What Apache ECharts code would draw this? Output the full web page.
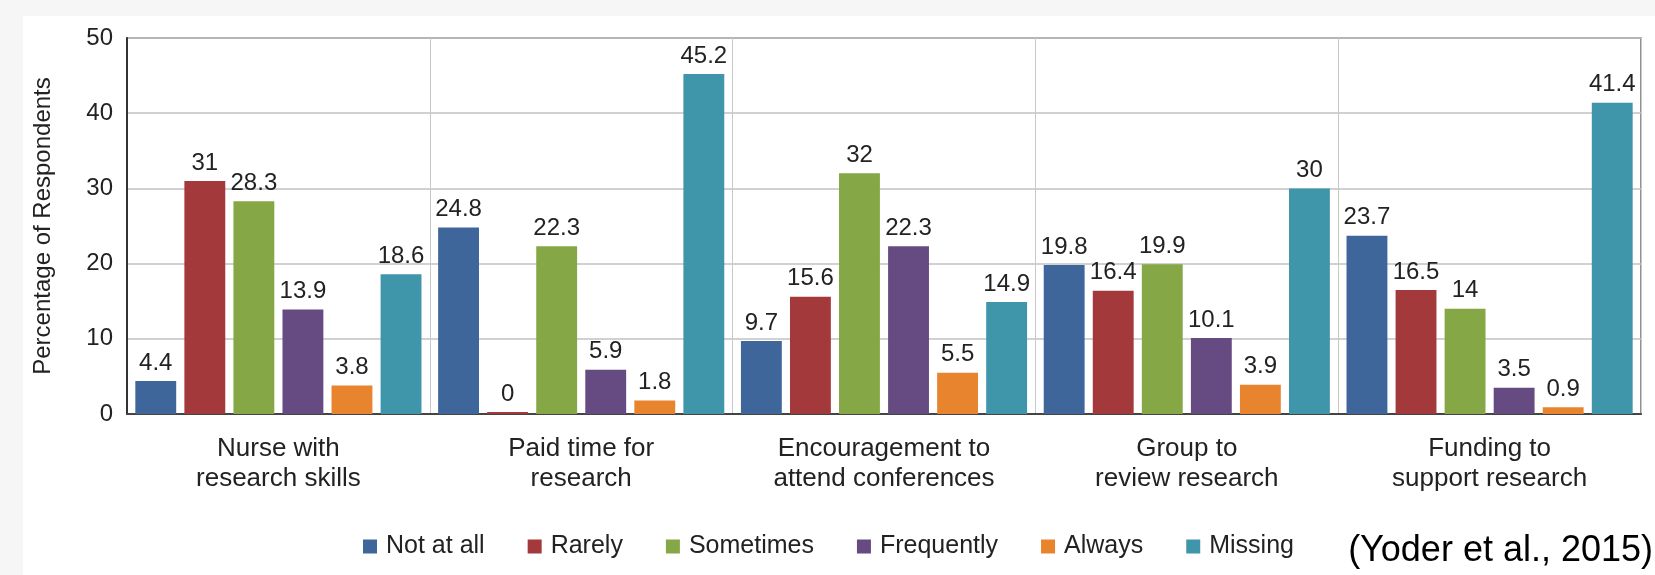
<!DOCTYPE html>
<html>
<head>
<meta charset="utf-8">
<script src="https://cdn.jsdelivr.net/npm/echarts@6/dist/echarts.min.js"></script>
<style>
  html, body { margin: 0; padding: 0; width: 1655px; height: 575px; background: #f6f6f6; overflow: hidden; }
  #chart { position: absolute; left: 23px; top: 16px; width: 1632px; height: 559px; background: #ffffff; }
</style>
</head>
<body>
<div id="chart"></div>
<script>
const categories = ['Nurse with\nresearch skills', 'Paid time for\nresearch', 'Encouragement to\nattend conferences', 'Group to\nreview research', 'Funding to\nsupport research'];
const notAtAll   = [4.4, 24.8, 9.7, 19.8, 23.7];
const rarely     = [31, 0, 15.6, 16.4, 16.5];
const sometimes  = [28.3, 22.3, 32, 19.9, 14];
const frequently = [13.9, 5.9, 22.3, 10.1, 3.5];
const always     = [3.8, 1.8, 5.5, 3.9, 0.9];
const missing    = [18.6, 45.2, 14.9, 30, 41.4];
const seriesNames = ['Not at all', 'Rarely', 'Sometimes', 'Frequently', 'Always', 'Missing'];
const seriesData = [notAtAll, rarely, sometimes, frequently, always, missing];
const colors = ['#3f669b', '#a4393b', '#85a746', '#664b82', '#e9842e', '#3f95aa'];
const citation = '(Yoder et al., 2015)';

const FONT = 'Arial, "Liberation Sans", sans-serif';
const chart = echarts.init(document.getElementById('chart'), null, { renderer: 'canvas' });

const series = seriesNames.map((name, i) => ({
  name: name,
  type: 'bar',
  data: seriesData[i],
  barGap: '20%',
  barCategoryGap: '5.5%',
  barMinHeight: i === 1 ? 2 : 0,
  itemStyle: { color: colors[i] },
  label: {
    show: true,
    position: 'top',
    distance: 6,
    color: '#222',
    fontSize: 24,
    fontFamily: FONT
  }
}));

chart.setOption({
  animation: false,
  color: colors,
  textStyle: { fontFamily: FONT },
  grid: {
    left: 104, top: 22, right: 14, bottom: 161,
    show: true, borderColor: '#6e6e6e', borderWidth: 1.5, backgroundColor: 'transparent'
  },
  legend: {
    data: seriesNames,
    left: 340, top: 518, padding: 0,
    icon: 'rect', itemWidth: 14, itemHeight: 14, itemGap: 43,
    textStyle: { fontSize: 25, color: '#222', fontFamily: FONT, padding: [0, 0, 0, 4] }
  },
  xAxis: {
    type: 'category',
    data: categories,
    boundaryGap: true,
    axisLine: { show: true, lineStyle: { color: '#444', width: 2 } },
    axisTick: { show: false },
    axisLabel: { color: '#222', fontSize: 26, lineHeight: 30, margin: 20, fontFamily: FONT, interval: 0 },
    splitLine: { show: true, lineStyle: { color: '#c8c8c8', width: 1 } }
  },
  yAxis: {
    type: 'value',
    min: 0, max: 50, interval: 10,
    name: 'Percentage of Respondents',
    nameLocation: 'middle',
    nameGap: 72,
    nameTextStyle: { color: '#222', fontSize: 24, fontFamily: FONT },
    axisLine: { show: true, lineStyle: { color: '#333', width: 2 } },
    axisTick: { show: false },
    axisLabel: { color: '#222', fontSize: 24, margin: 14, fontFamily: FONT },
    splitLine: { show: true, lineStyle: { color: '#c2c2c2', width: 1.5 } }
  },
  graphic: [{
    type: 'text',
    right: 2,
    top: 517,
    style: { text: citation, fontSize: 36, fontFamily: FONT, fill: '#000' }
  }],
  series: series
});
</script>
</body>
</html>
